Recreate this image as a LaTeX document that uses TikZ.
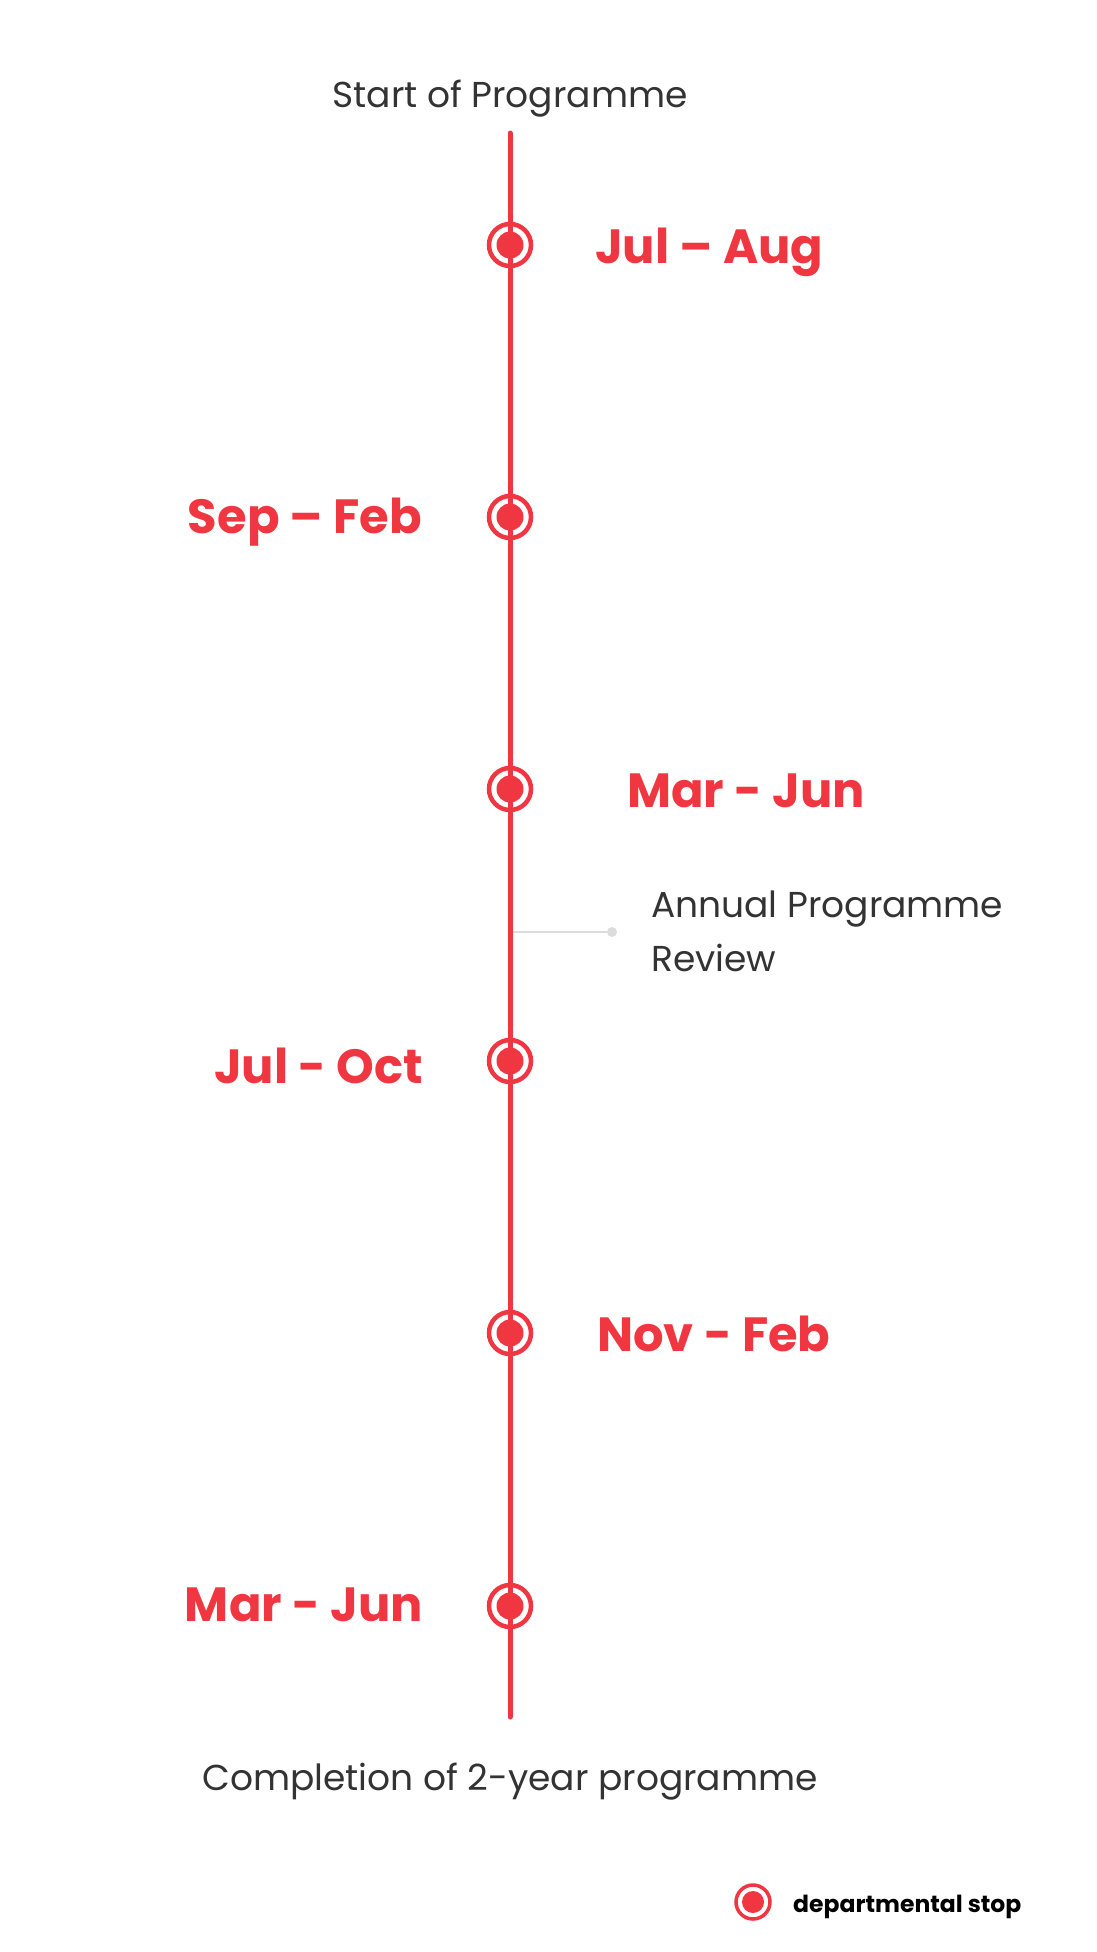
\documentclass[tikz,border=0pt]{standalone}
\usepackage{fontspec}
\setmainfont{Poppins}
\definecolor{tlred}{HTML}{F03640}
\definecolor{tltext}{HTML}{333333}
\definecolor{tlgray}{HTML}{DCDCDC}
\tikzset{
  ring/.style={circle, draw=tlred, line width=4.5pt, minimum size=42pt, inner sep=0pt},
  dot/.style={fill=tlred},
  month/.style={text=tlred, inner sep=0pt, font=\fontsize{48}{58}\selectfont\bfseries},
  caption/.style={text=tltext, inner sep=0pt, font=\fontsize{36}{54}\selectfont},
}
\begin{document}
\begin{tikzpicture}[x=1pt, y=-1pt]
  \useasboundingbox (0,0) rectangle (1096,1952);
  % the timeline
  \coordinate (top) at (510,133);
  \coordinate (bottom) at (510,1717);
  \draw[tlred, line width=5pt, line cap=round] (top) -- (bottom);
  \node[caption, anchor=base] (start) at (510,107) {Start of Programme};
  \node[caption, anchor=base] (finish) at (510,1790) {Completion of 2-year programme};
  % stops
  \node[ring] (s1) at (510,245) {};
  \node[ring] (s2) at (510,517) {};
  \node[ring] (s3) at (510,789) {};
  \node[ring] (s4) at (510,1061) {};
  \node[ring] (s5) at (510,1333) {};
  \node[ring] (s6) at (510,1606) {};
  \foreach \s in {s1,s2,s3,s4,s5,s6}
    \fill[dot] (\s) circle (13.5);
  \node[month, anchor=base west] (m1) at (595,263) {Jul – Aug};
  \node[month, anchor=base east] (m2) at (422,533) {Sep – Feb};
  \node[month, anchor=base west] (m3) at (627,807) {Mar - Jun};
  \node[month, anchor=base east] (m4) at (423,1083) {Jul - Oct};
  \node[month, anchor=base west] (m5) at (597,1351) {Nov - Feb};
  \node[month, anchor=base east] (m6) at (423,1621) {Mar - Jun};
  % review marker
  \coordinate (rv) at (513,932);
  \node[circle, fill=tlgray, inner sep=0pt, minimum size=10pt] (rvdot) at (612,932) {};
  \draw[tlgray, line width=2pt] (rv) -- (rvdot);
  \node[caption, anchor=base west, align=left] (review) at (651,971) {Annual Programme\\Review};
  % legend
  \node[circle, draw=tlred, line width=3.5pt, minimum size=34pt, inner sep=0pt] (key) at (753,1902) {};
  \fill[dot] (key) circle (11);
  \node[anchor=base west, inner sep=0pt, font=\fontsize{23.5}{28}\selectfont\bfseries] (keytext) at (793,1912) {departmental stop};
\end{tikzpicture}
\end{document}
